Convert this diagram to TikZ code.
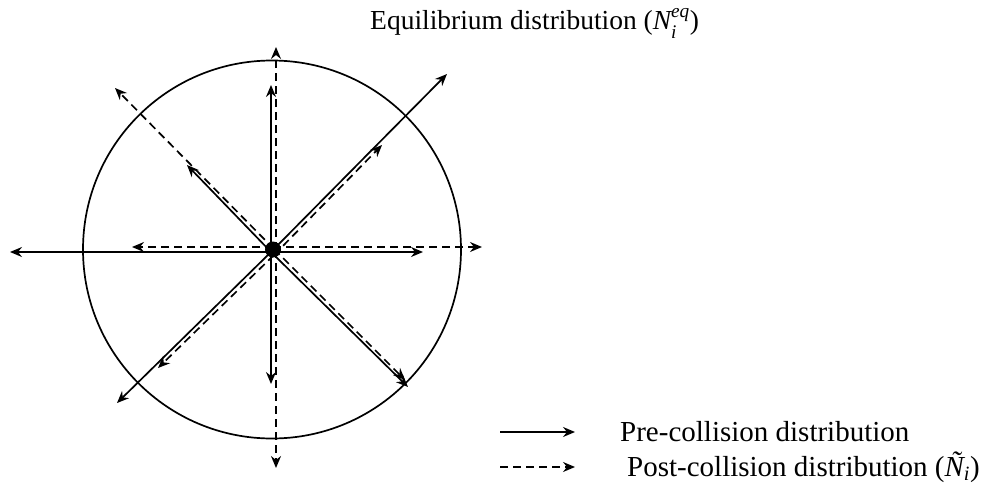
\documentclass[tikz,border=0pt]{standalone}
\usepackage{amsmath}
\usepackage{fontspec}
\setmainfont{Liberation Serif}
\usetikzlibrary{arrows.meta}
\begin{document}
\begin{tikzpicture}[x=1pt,y=-1pt,
  vec/.style={line width=1.7pt,-{Stealth[length=12pt,width=10pt,inset=4pt]}},
  dvec/.style={vec,dash pattern=on 8pt off 5pt},
  lbl/.style={anchor=base west,inner sep=0pt,font=\fontsize{29}{34}\selectfont}]
\useasboundingbox (0,0) rectangle (984,495);
\node[circle,draw,line width=1.7pt,minimum size=378pt,inner sep=0pt] (ring) at (272,249.5) {};
% centres
\coordinate (s0) at (271,252);
\coordinate (dh) at (273,247);
\coordinate (dv) at (276,250);
\coordinate (da) at (274,249);
\coordinate (db) at (274,255);
% solid tips
\coordinate (sW) at (10,252);
\coordinate (sE) at (423,252);
\coordinate (sN) at (271,85);
\coordinate (sS) at (271,384);
\coordinate (sNE) at (447,74);
\coordinate (sNW) at (187,165);
\coordinate (sSW) at (117,403);
\coordinate (sSE) at (408,387);
% dashed tips
\coordinate (dW) at (132,247);
\coordinate (dE) at (482,247);
\coordinate (dN) at (276,47);
\coordinate (dS) at (276,468);
\coordinate (dNW) at (115,88);
\coordinate (dNE) at (382,145);
\coordinate (dSW) at (158,368);
\coordinate (dSE) at (405,380);
\foreach \t in {sW,sE,sN,sS,sNE,sNW,sSW,sSE} \draw[vec] (s0) -- (\t);
\draw[dvec] (dh) -- (dW);
\draw[dvec] (dh) -- (dE);
\draw[dvec] (dv) -- (dN);
\draw[dvec] (dv) -- (dS);
\draw[dvec] (da) -- (dNW);
\draw[dvec] (da) -- (dSE);
\draw[dvec] (db) -- (dNE);
\draw[dvec] (db) -- (dSW);
\node[circle,fill,inner sep=0pt,minimum size=16pt] (dot) at (273,249.5) {};
% title
\node[lbl,font=\fontsize{27.5}{33}\selectfont] (title) at (370,30) {Equilibrium distribution ($\text{\itshape N}_{\text{\itshape i}}^{\text{\itshape eq}}$)};
% legend
\coordinate (l1a) at (500,432);
\coordinate (l1b) at (575,432);
\coordinate (l2a) at (500,467);
\coordinate (l2b) at (575,467);
\draw[vec] (l1a) -- (l1b);
\draw[dvec] (l2a) -- (l2b);
\node[lbl] (pre) at (620,441) {Pre-collision distribution};
\node[lbl] (post) at (627,476) {Post-collision distribution ($\text{\itshape Ñ}_{\text{\itshape i}}$)};
\end{tikzpicture}
\end{document}
